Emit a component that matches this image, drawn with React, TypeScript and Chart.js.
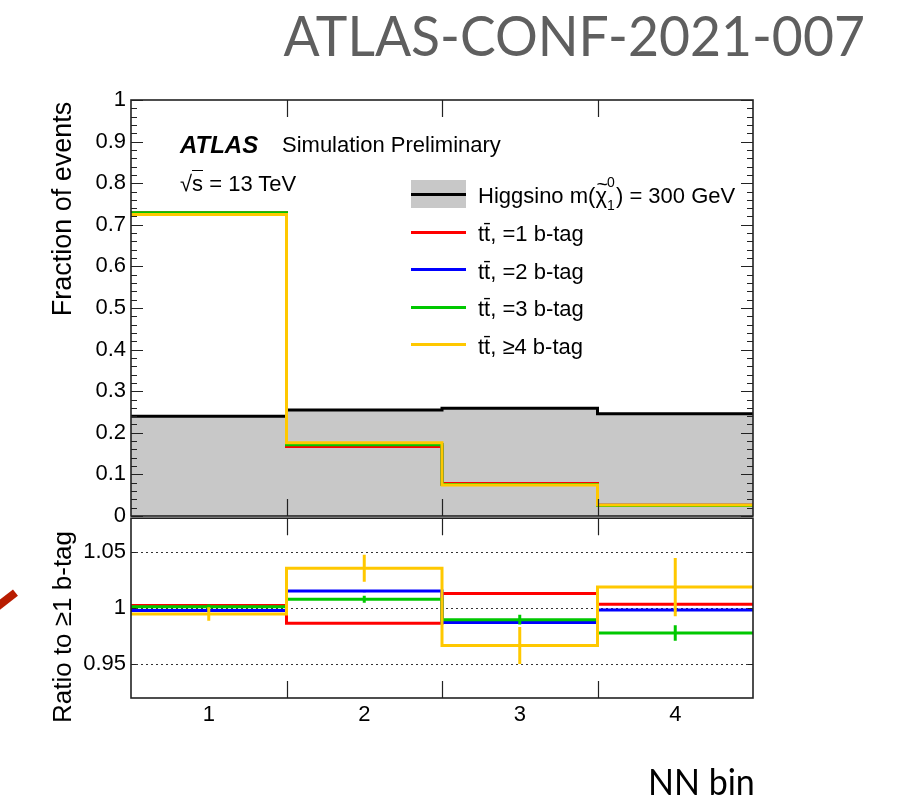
import React, { useEffect, useRef } from "react";
import { Chart, registerables } from "chart.js";

Chart.register(...registerables);

// ---------------- data ----------------
const binEdges = [0.5, 1.5, 2.5, 3.5, 4.5];
const binCenters = [1, 2, 3, 4];
const binLabels = ["1", "2", "3", "4"];

const higgsinoFrac = [0.24, 0.255, 0.259, 0.246];
const tt1Frac = [0.729, 0.167, 0.078, 0.026];
const tt2Frac = [0.727, 0.172, 0.076, 0.026];
const tt3Frac = [0.729, 0.171, 0.076, 0.0255];
const tt4Frac = [0.725, 0.176, 0.0745, 0.0265];

const tt1Ratio = [1.0024, 0.9866, 1.0129, 1.0035];
const tt2Ratio = [0.9978, 1.0152, 0.9871, 0.9982];
const tt3Ratio = [1.0011, 1.0079, 0.9897, 0.9778];
const tt4Ratio = [0.9948, 1.0354, 0.9667, 1.0187];

const tt1Err = [0.0005, 0.0006, 0.0008, 0.0008];
const tt2Err = [0.0008, 0.001, 0.0012, 0.0015];
const tt3Err = [0.002, 0.0032, 0.0044, 0.0069];
const tt4Err = [0.006, 0.012, 0.0164, 0.0259];

const fracTicks = [0, 0.1, 0.2, 0.3, 0.4, 0.5, 0.6, 0.7, 0.8, 0.9, 1];
const fracTickLabels = ["0", "0.1", "0.2", "0.3", "0.4", "0.5", "0.6", "0.7", "0.8", "0.9", "1"];
const ratioTicks = [0.95, 1, 1.05];
const ratioTickLabels = ["0.95", "1", "1.05"];
const ratioRange = [0.92, 1.08];
const fracRange = [0, 1];

const higgsinoLabel = "Higgsino";
const seriesLabels = ["tt\u0304, =1 b-tag", "tt\u0304, =2 b-tag", "tt\u0304, =3 b-tag", "tt\u0304, \u22654 b-tag"];
const seriesColors = ["#ff0000", "#0000ff", "#00c800", "#ffc800"];
const fracSeries = [tt1Frac, tt2Frac, tt3Frac, tt4Frac];
const ratioSeries = [tt1Ratio, tt2Ratio, tt3Ratio, tt4Ratio];
const errSeries = [tt1Err, tt2Err, tt3Err, tt4Err];

const FONT = "'Liberation Sans', Arial, Helvetica, sans-serif";

// ---------------- helpers ----------------
function histPoints(values: number[]) {
  return binEdges.map((x, i) => ({ x, y: values[Math.min(i, values.length - 1)] }));
}
function errPoints(values: number[], errs: number[]) {
  const pts: any[] = [];
  values.forEach((v, i) => {
    pts.push({ x: binCenters[i], y: v - errs[i] });
    pts.push({ x: binCenters[i], y: v + errs[i] });
    pts.push({ x: binCenters[i], y: null });
  });
  return pts;
}
function minorFrom(majors: number[], n: number) {
  const out: number[] = [];
  for (let i = 0; i < majors.length - 1; i++) {
    const step = (majors[i + 1] - majors[i]) / n;
    for (let k = 1; k < n; k++) out.push(majors[i] + k * step);
  }
  return out;
}

const framePlugin = {
  id: "rootFrame",
  beforeDatasetsDraw(chart: any, _args: any, opts: any) {
    const { ctx, chartArea: a, scales } = chart;
    if (!opts.dotted) return;
    ctx.save();
    ctx.strokeStyle = "#333";
    ctx.lineWidth = 1;
    ctx.setLineDash([2, 3]);
    for (const v of opts.dotted) {
      const py = Math.round(scales.y.getPixelForValue(v)) + 0.5;
      ctx.beginPath();
      ctx.moveTo(a.left, py);
      ctx.lineTo(a.right, py);
      ctx.stroke();
    }
    ctx.restore();
  },
  afterDatasetsDraw(chart: any, _args: any, opts: any) {
    const { ctx, chartArea: a, scales } = chart;
    ctx.save();
    ctx.strokeStyle = "#222";
    ctx.lineWidth = 1.2;
    ctx.beginPath();
    const yTick = (vals: number[], len: number) => {
      for (const v of vals) {
        const py = Math.round(scales.y.getPixelForValue(v)) + 0.5;
        ctx.moveTo(a.left, py);
        ctx.lineTo(a.left + len, py);
        ctx.moveTo(a.right - len, py);
        ctx.lineTo(a.right, py);
      }
    };
    yTick(opts.yMajor || [], opts.majorLen || 12);
    yTick(opts.yMinor || [], opts.minorLen || 6);
    for (const v of opts.xTicks || []) {
      const px = Math.round(scales.x.getPixelForValue(v)) + 0.5;
      ctx.moveTo(px, a.top);
      ctx.lineTo(px, a.top + opts.xLen);
      ctx.moveTo(px, a.bottom - opts.xLen);
      ctx.lineTo(px, a.bottom);
    }
    ctx.stroke();
    ctx.lineWidth = 1.6;
    ctx.strokeRect(a.left, a.top, a.right - a.left, a.bottom - a.top);
    ctx.restore();
  },
};

const lineBase = {
  pointRadius: 0,
  borderWidth: 3,
  tension: 0,
  fill: false,
};

export default function App() {
  const upperRef = useRef<HTMLCanvasElement>(null);
  const lowerRef = useRef<HTMLCanvasElement>(null);

  useEffect(() => {
    Chart.defaults.font.family = FONT;
    Chart.defaults.color = "#000";

    const upperDatasets: any[] = [];
    for (let k = fracSeries.length - 1; k >= 0; k--) {
      upperDatasets.push({
        ...lineBase,
        label: seriesLabels[k],
        data: histPoints(fracSeries[k]),
        borderColor: seriesColors[k],
        stepped: "before",
      });
    }
    upperDatasets.push({
      ...lineBase,
      label: higgsinoLabel,
      data: histPoints(higgsinoFrac),
      borderColor: "#000",
      backgroundColor: "#c8c8c8",
      fill: "origin",
      stepped: "before",
    });

    const lowerDatasets: any[] = [];
    for (let k = ratioSeries.length - 1; k >= 0; k--) {
      lowerDatasets.push({
        ...lineBase,
        label: seriesLabels[k] + " err",
        data: errPoints(ratioSeries[k], errSeries[k]),
        borderColor: seriesColors[k],
        spanGaps: false,
      });
      lowerDatasets.push({
        ...lineBase,
        label: seriesLabels[k],
        data: histPoints(ratioSeries[k]),
        borderColor: seriesColors[k],
        stepped: "before",
      });
    }

    const upper = new Chart(upperRef.current!, {
      type: "line",
      data: { datasets: upperDatasets },
      plugins: [framePlugin as any],
      options: {
        responsive: false,
        animation: false,
        events: [],
        layout: { autoPadding: false, padding: { top: 100, bottom: 24, left: 0, right: 170 } },
        plugins: {
          legend: { display: false },
          tooltip: { enabled: false },
          rootFrame: {
            yMajor: fracTicks,
            yMinor: minorFrom(fracTicks, 5),
            majorLen: 12,
            minorLen: 6,
            xTicks: binEdges.slice(1, -1),
            xLen: 17,
          },
        } as any,
        scales: {
          x: { type: "linear", min: binEdges[0], max: binEdges[binEdges.length - 1], display: false },
          y: {
            type: "linear",
            min: fracRange[0],
            max: fracRange[1],
            afterFit: (s: any) => {
              s.width = 131;
            },
            afterBuildTicks: (s: any) => {
              s.ticks = fracTicks.map((v) => ({ value: v }));
            },
            grid: { display: false, drawTicks: false },
            border: { display: false },
            ticks: {
              font: { size: 22, family: FONT },
              color: "#000",
              padding: 5,
              callback: (_v: any, i: number) => fracTickLabels[i],
            },
          },
        },
      } as any,
    });

    const lower = new Chart(lowerRef.current!, {
      type: "line",
      data: { datasets: lowerDatasets },
      plugins: [framePlugin as any],
      options: {
        responsive: false,
        animation: false,
        events: [],
        layout: { autoPadding: false, padding: { top: 16, bottom: 0, left: 0, right: 170 } },
        plugins: {
          legend: { display: false },
          tooltip: { enabled: false },
          rootFrame: {
            yMajor: ratioTicks,
            yMinor: [],
            majorLen: 5,
            minorLen: 3,
            xTicks: binEdges.slice(1, -1),
            xLen: 17,
            dotted: ratioTicks,
          },
        } as any,
        scales: {
          x: {
            type: "linear",
            min: binEdges[0],
            max: binEdges[binEdges.length - 1],
            afterFit: (s: any) => {
              s.height = 103;
            },
            afterBuildTicks: (s: any) => {
              s.ticks = binCenters.map((v) => ({ value: v }));
            },
            grid: { display: false, drawTicks: false },
            border: { display: false },
            ticks: {
              font: { size: 22, family: FONT },
              color: "#000",
              padding: 4,
              maxRotation: 0,
              autoSkip: false,
              callback: (_v: any, i: number) => binLabels[i],
            },
          },
          y: {
            type: "linear",
            min: ratioRange[0],
            max: ratioRange[1],
            afterFit: (s: any) => {
              s.width = 131;
            },
            afterBuildTicks: (s: any) => {
              s.ticks = ratioTicks.map((v) => ({ value: v }));
            },
            grid: { display: false, drawTicks: false },
            border: { display: false },
            ticks: {
              font: { size: 22, family: FONT },
              color: "#000",
              padding: 5,
              callback: (_v: any, i: number) => ratioTickLabels[i],
            },
          },
        },
      } as any,
    });

    return () => {
      upper.destroy();
      lower.destroy();
    };
  }, []);

  const abs = (style: React.CSSProperties): React.CSSProperties => ({
    position: "absolute",
    whiteSpace: "nowrap",
    lineHeight: 1,
    ...style,
  });

  const legendRows = [
    { label: null as any, color: "#000", y: 194 },
    ...seriesLabels.map((l, i) => ({ label: l, color: seriesColors[i], y: 232 + i * 37.6 })),
  ];

  return (
    <div
      style={{
        position: "fixed",
        left: 0,
        top: 0,
        width: 923,
        height: 801,
        background: "#fff",
        overflow: "hidden",
        fontFamily: FONT,
        color: "#000",
      }}
    >
      <div
        style={abs({
          right: 58,
          top: 7,
          fontFamily: "Lato, 'Open Sans', sans-serif",
          fontSize: 56,
          color: "#5f5f5f",
          transform: "scaleX(0.955)",
          transformOrigin: "right center",
        })}
      >
        ATLAS-CONF-2021-007
      </div>

      <canvas ref={lowerRef} width={923} height={301} style={{ position: "absolute", left: 0, top: 500 }} />
      <canvas ref={upperRef} width={923} height={540} style={{ position: "absolute", left: 0, top: 0 }} />

      {/* y axis titles */}
      <div style={abs({ left: 62, top: 209, fontSize: 27, transform: "translate(-50%,-50%) rotate(-90deg)" })}>
        Fraction of events
      </div>
      <div style={abs({ left: 62, top: 627, fontSize: 26, transform: "translate(-50%,-50%) rotate(-90deg)" })}>
        Ratio to {"\u2265"}1 b-tag
      </div>

      {/* ATLAS label */}
      <div style={abs({ left: 180, top: 133, fontSize: 24, fontWeight: "bold", fontStyle: "italic" })}>ATLAS</div>
      <div style={abs({ left: 282, top: 134, fontSize: 22 })}>Simulation Preliminary</div>
      <div style={abs({ left: 180, top: 173, fontSize: 22 })}>
        {"\u221A"}
        <span style={{ borderTop: "1.5px solid #000" }}>s</span> = 13 TeV
      </div>

      {/* legend */}
      {legendRows.map((r, i) => (
        <div
          key={i}
          style={abs({
            left: 411,
            top: r.y - 14,
            height: 28,
            display: "flex",
            alignItems: "center",
            fontSize: 22,
          })}
        >
          <div style={{ position: "relative", width: 55, height: 28, marginRight: 12 }}>
            {i === 0 && (
              <div style={{ position: "absolute", left: 0, top: 0, width: 55, height: 28, background: "#c8c8c8" }} />
            )}
            <div
              style={{
                position: "absolute",
                left: 0,
                top: 12.5,
                width: 55,
                height: 3,
                background: r.color,
              }}
            />
          </div>
          {i === 0 ? (
            <span style={{ position: "relative", top: 2 }}>
              {higgsinoLabel} m(
              <span style={{ position: "relative", display: "inline-block" }}>
                {"\u03C7"}
                <span style={{ position: "absolute", left: 1, top: -11, fontSize: 20 }}>~</span>
                <span style={{ position: "absolute", left: "100%", top: -10, fontSize: 14 }}>0</span>
                <span style={{ position: "absolute", left: "100%", top: 13, fontSize: 14 }}>1</span>
              </span>
              <span style={{ marginLeft: 9 }}>) = 300 GeV</span>
            </span>
          ) : (
            <span style={{ position: "relative", top: 2 }}>{r.label}</span>
          )}
        </div>
      ))}

      <div
        style={abs({
          left: 648,
          top: 763,
          fontSize: 36,
          fontFamily: "Lato, 'Open Sans', sans-serif",
          transform: "scaleX(0.945)",
          transformOrigin: "left center",
        })}
      >
        NN bin
      </div>

      {/* red annotation mark at left edge */}
      <div
        style={{
          position: "absolute",
          left: -6,
          top: 596,
          width: 24,
          height: 8,
          background: "#b81c00",
          transform: "rotate(-38deg)",
        }}
      />
    </div>
  );
}
